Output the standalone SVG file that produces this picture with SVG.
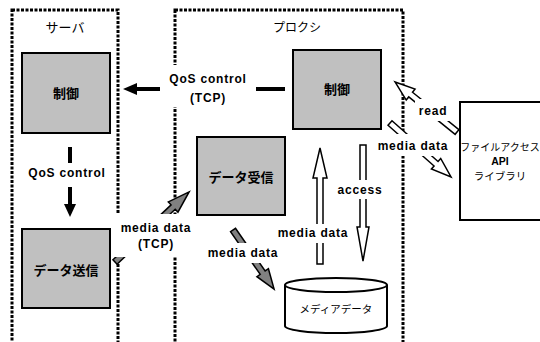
<svg xmlns="http://www.w3.org/2000/svg" width="540" height="342" viewBox="0 0 540 342">
<style>
.panel{fill:none;stroke:#000;stroke-width:3;stroke-dasharray:3 1.5}
.box{fill:#c0c0c0;stroke:#000;stroke-width:2}
.lib{fill:#fff;stroke:#000;stroke-width:2}
.hollow{fill:#fff;stroke:#000;stroke-width:1.5;stroke-linejoin:miter}
.gray{fill:#808080;stroke:#000;stroke-width:1.5}
.bg{fill:#fff;stroke:none}
.en{font-family:"Liberation Sans",Arial,sans-serif;font-weight:bold;font-size:12px;letter-spacing:0.8px;text-anchor:middle;fill:#000}
.jp{font-family:"Liberation Sans","Noto Sans CJK JP",sans-serif;font-size:13px;text-anchor:middle;fill:#000}
.jpb{font-family:"Liberation Sans","Noto Sans CJK JP",sans-serif;font-weight:bold;font-size:13px;text-anchor:middle;fill:#000}
.small{font-size:10.5px}
.tiny{font-size:10px}
.mid{font-size:12px}
</style>
<rect width="540" height="342" fill="#fff"/>
<g id="server-panel">
<rect class="panel" x="12" y="10" width="106" height="345"/>
<text class="jp" x="65" y="31.5">サーバ</text>
</g>
<g id="proxy-panel">
<rect class="panel" x="175" y="10" width="228" height="345"/>
<text class="jp mid" x="297" y="31.5">プロクシ</text>
</g>
<g id="connectors">
<g id="qos-tcp">
<line x1="285" y1="89" x2="135" y2="89" stroke="#000" stroke-width="4"/>
<polygon points="123,89 137,83 137,95" fill="#000"/>
<rect class="bg" x="160" y="65" width="96" height="42"/>
<text class="en" x="208" y="83">QoS control</text>
<text class="en" x="208" y="102">(TCP)</text>
</g>
<g id="qos-server">
<line x1="70" y1="147" x2="70" y2="206" stroke="#000" stroke-width="4"/>
<polygon points="70,217 64,204 76,204" fill="#000"/>
<rect class="bg" x="26" y="163" width="82" height="24"/>
<text class="en" x="67" y="177">QoS control</text>
</g>
<g id="read">
<polygon class="hollow" transform="translate(457,132) rotate(218.9)" points="0,-3 59.6,-3 59.6,-7 79.6,0 59.6,7 59.6,3 0,3"/>
<rect class="bg" x="415" y="99" width="36" height="22"/>
<text class="en" x="433" y="115">read</text>
</g>
<g id="media-lib">
<polygon class="hollow" transform="translate(390,123) rotate(41.5)" points="0,-3 61.5,-3 61.5,-7 81.5,0 61.5,7 61.5,3 0,3"/>
<rect class="bg" x="377" y="134" width="74" height="22"/>
<text class="en" x="413" y="150">media data</text>
</g>
<g id="media-tcp">
<polygon class="gray" transform="translate(115,262) rotate(-43.4)" points="0,-3 80,-3 80,-7 102,0 80,7 80,3 0,3"/>
<rect class="bg" x="112" y="214" width="82" height="43"/>
<text class="en" x="156" y="232">media data</text>
<text class="en" x="156" y="248">(TCP)</text>
</g>
<g id="media-db">
<polygon class="gray" transform="translate(233,230) rotate(55.2)" points="0,-3 52,-3 52,-7 72,0 52,7 52,3 0,3"/>
<rect class="bg" x="205" y="243" width="75" height="20"/>
<text class="en" x="243" y="257">media data</text>
</g>
<g id="media-up">
<polygon class="hollow" transform="translate(320,264) rotate(-90)" points="0,-3 86,-3 86,-7 116,0 86,7 86,3 0,3"/>
<rect class="bg" x="276" y="224" width="74" height="19"/>
<text class="en" x="313" y="237">media data</text>
</g>
<g id="access">
<polygon class="hollow" transform="translate(363,145) rotate(90)" points="0,-3 82,-3 82,-6 116,0 82,6 82,3 0,3"/>
<rect class="bg" x="335" y="180" width="50" height="19"/>
<text class="en" x="360" y="194">access</text>
</g>
</g>
<g id="server-control">
<rect class="box" x="22" y="53" width="88" height="80"/>
<text class="jpb" x="66" y="98">制御</text>
</g>
<g id="data-send">
<rect class="box" x="22" y="229" width="88" height="79"/>
<text class="jpb" x="66" y="275">データ送信</text>
</g>
<g id="proxy-control">
<rect class="box" x="293" y="50" width="88" height="79"/>
<text class="jpb" x="337" y="94">制御</text>
</g>
<g id="data-receive">
<rect class="box" x="197" y="137" width="88" height="78"/>
<text class="jpb" x="241" y="182">データ受信</text>
</g>
<g id="media-data-store">
<path d="M285,285 L285,326 A51,7 0 0 0 387,326 L387,285" fill="#fff" stroke="#000" stroke-width="2"/>
<ellipse cx="336" cy="285" rx="51" ry="7" fill="#fff" stroke="#000" stroke-width="2"/>
<text class="jp small" x="336" y="313">メディアデータ</text>
</g>
<g id="file-access-lib">
<rect class="lib" x="460" y="102" width="90" height="118"/>
<text class="jp tiny" x="500" y="151">ファイルアクセス</text>
<text class="jpb small" x="500" y="165">API</text>
<text class="jp small" x="500" y="180">ライブラリ</text>
</g>
</svg>
